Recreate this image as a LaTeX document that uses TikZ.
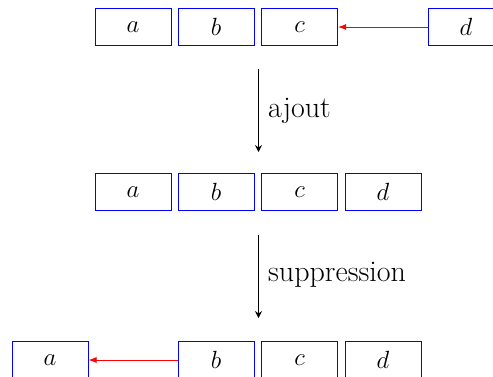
\documentclass[tikz,border=0pt]{standalone}
\usetikzlibrary{arrows.meta}
\begin{document}
\begin{tikzpicture}[x=1pt,y=-1pt,
  cell/.style={draw=blue, line width=1pt, minimum width=76pt, minimum height=37pt, inner sep=0pt,
    font=\fontsize{28}{33}\selectfont},
  move/.style={red, line width=1pt, -{Latex[length=8pt,width=6pt]}},
  op/.style={black, line width=1pt, -{Stealth[length=7pt,width=7pt,inset=2.5pt]}},
  lbl/.style={anchor=base west, inner sep=0pt, font=\fontsize{30}{36}\selectfont}]
\useasboundingbox (0,0) rectangle (493,376);
% top row
\node[cell] (a1) at (133,27) {$a$};
\node[cell] (b1) at (216,27) {$b$};
\node[cell] (c1) at (299.5,27) {$c$};
\node[cell] (d1) at (466,27) {$d$};
\draw[move] (d1.west) -- (c1.east);
% middle row
\node[cell] (a2) at (133,192) {$a$};
\node[cell] (b2) at (216,192) {$b$};
\node[cell] (c2) at (299.5,192) {$c$};
\node[cell] (d2) at (383,192) {$d$};
% bottom row
\node[cell] (a3) at (50,360) {$a$};
\node[cell] (b3) at (216,360) {$b$};
\node[cell] (c3) at (299.5,360) {$c$};
\node[cell] (d3) at (383,360) {$d$};
\draw[move] (b3.west) -- (a3.east);
% operations
\coordinate (s1) at (258.5,69);
\coordinate (e1) at (258.5,152);
\coordinate (s2) at (258.5,235);
\coordinate (e2) at (258.5,318);
\draw[op] (s1) -- (e1);
\draw[op] (s2) -- (e2);
\node[lbl] (l1) at (268,117) {ajout};
\node[lbl] (l2) at (268,281.5) {suppression};
\end{tikzpicture}
\end{document}
